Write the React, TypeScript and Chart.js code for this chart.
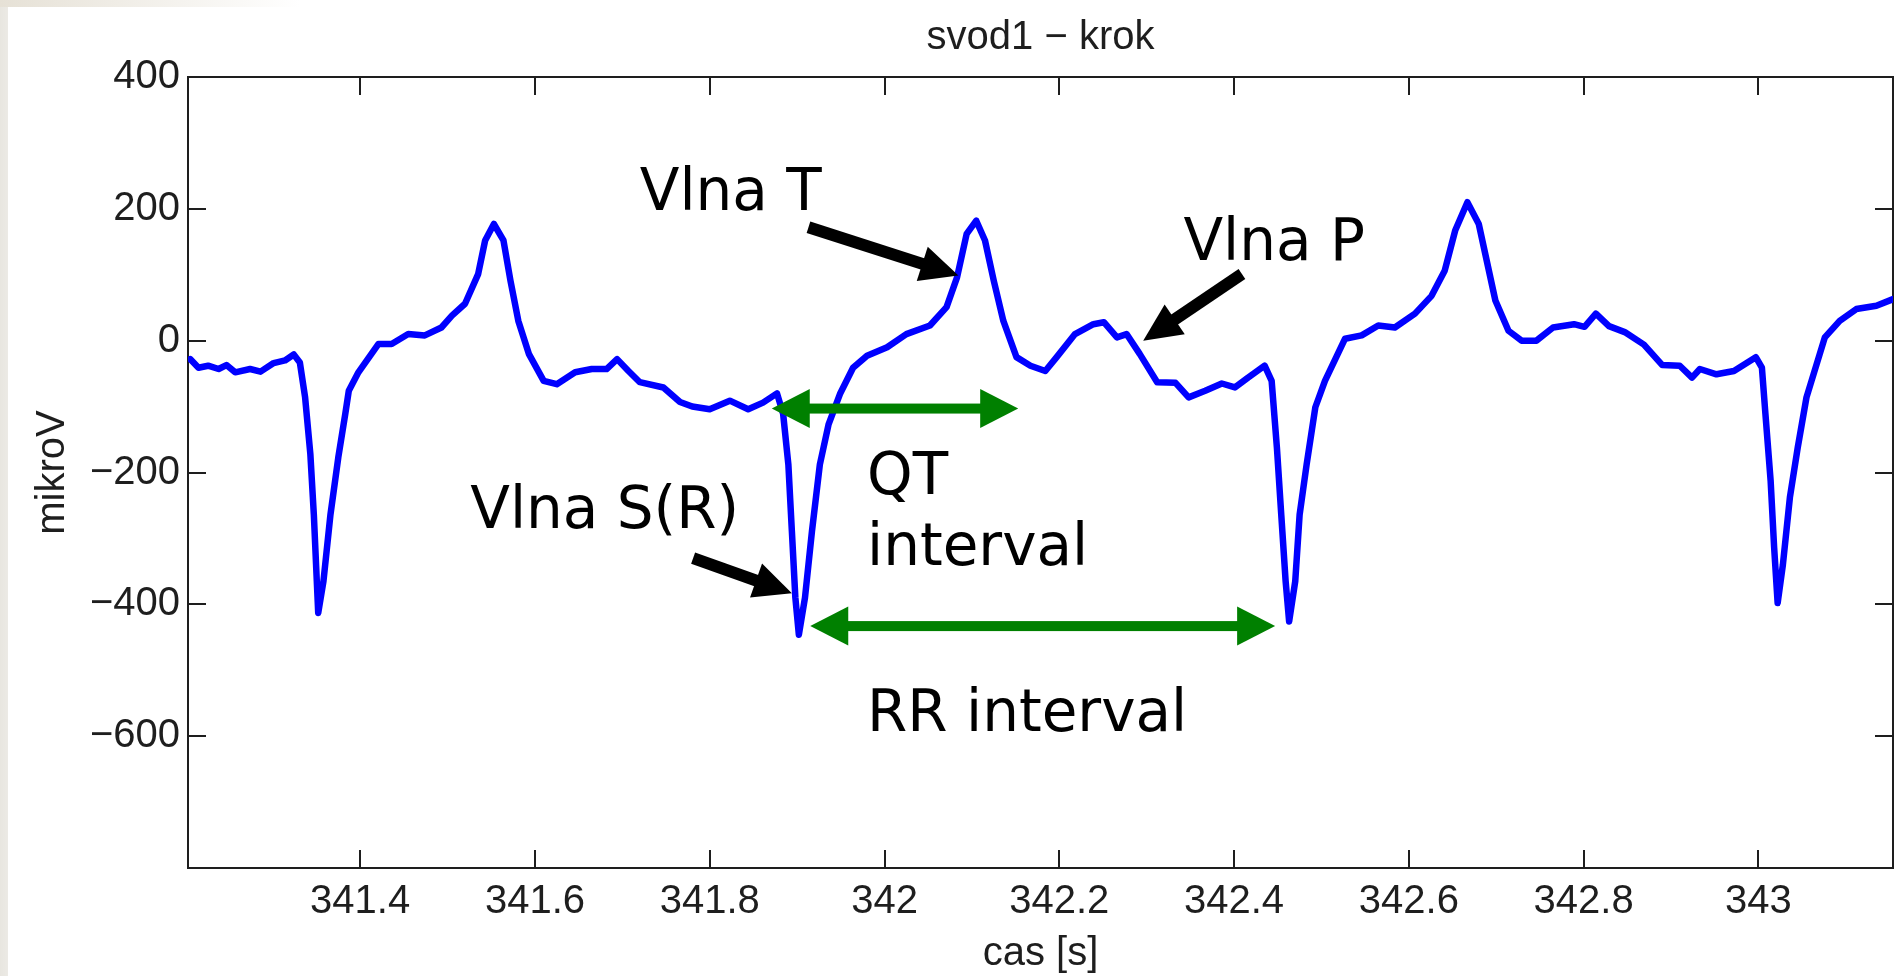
import React, { useEffect, useRef } from "react";
import { Chart, registerables } from "chart.js";

Chart.register(...registerables);

// ECG trace (time in seconds, amplitude in microvolts)
const times = [
  341.2055, 341.215, 341.226, 341.238, 341.247, 341.257, 341.274, 341.286, 341.301, 341.314,
  341.324, 341.331, 341.337, 341.343, 341.347, 341.352, 341.358, 341.366, 341.375, 341.383,
  341.387, 341.398, 341.421, 341.436, 341.455, 341.474, 341.493, 341.505, 341.52, 341.535,
  341.543, 341.553, 341.564, 341.572, 341.581, 341.593, 341.61, 341.625, 341.646, 341.665,
  341.682, 341.694, 341.707, 341.72, 341.747, 341.766, 341.78, 341.8, 341.823, 341.844,
  341.861, 341.877, 341.884, 341.89, 341.894, 341.898, 341.902, 341.909, 341.917, 341.926,
  341.936, 341.949, 341.964, 341.98, 342.003, 342.025, 342.052, 342.071, 342.083, 342.094,
  342.105, 342.115, 342.125, 342.136, 342.151, 342.167, 342.184, 342.197, 342.218, 342.239,
  342.251, 342.266, 342.277, 342.292, 342.312, 342.333, 342.348, 342.367, 342.386, 342.401,
  342.416, 342.435, 342.443, 342.449, 342.454, 342.459, 342.463, 342.47, 342.475, 342.483,
  342.493, 342.504, 342.527, 342.546, 342.565, 342.584, 342.607, 342.626, 342.641, 342.653,
  342.667, 342.68, 342.689, 342.699, 342.714, 342.729, 342.746, 342.765, 342.789, 342.801,
  342.814, 342.829, 342.847, 342.869, 342.89, 342.91, 342.924, 342.933, 342.952, 342.972,
  342.997, 343.004, 343.008, 343.014, 343.018, 343.022, 343.028, 343.036, 343.045, 343.055,
  343.076, 343.093, 343.112, 343.135, 343.154,
];
const microvolts = [
  -28, -41, -38, -43, -37, -48, -43, -47, -34, -30,
  -21, -33, -86, -172, -264, -413, -365, -264, -177, -111,
  -76, -48, -5, -5, 10, 8, 20, 38, 56, 101,
  152, 177, 152, 91, 30, -20, -61, -66, -48, -43,
  -43, -28, -46, -63, -71, -93, -100, -104, -91, -104,
  -94, -80, -111, -188, -289, -390, -446, -390, -289, -188,
  -127, -81, -41, -23, -10, 10, 23, 51, 96, 162,
  182, 152, 91, 30, -25, -38, -46, -25, 10, 25,
  28, 5, 10, -20, -63, -64, -86, -76, -65, -71,
  -56, -38, -61, -162, -264, -365, -426, -365, -264, -188,
  -101, -61, 3, 8, 23, 20, 41, 68, 106, 167,
  210, 177, 122, 61, 15, 0, 0, 20, 25, 21,
  41, 22, 13, -6, -37, -38, -56, -43, -51, -46,
  -25, -41, -111, -213, -314, -398, -340, -238, -162, -86,
  5, 30, 48, 53, 63,
];

const xTicks = [341.4, 341.6, 341.8, 342, 342.2, 342.4, 342.6, 342.8, 343];
const xTickLabels = ["341.4", "341.6", "341.8", "342", "342.2", "342.4", "342.6", "342.8", "343"];
const yTicks = [-600, -400, -200, 0, 200, 400];
const yTickLabels = ["\u2212600", "\u2212400", "\u2212200", "0", "200", "400"];

const X_MIN = 341.203;
const X_MAX = 343.154;
const Y_MIN = -800;
const Y_MAX = 400;

const titleText = "svod1 \u2212 krok";
const xTitle = "cas [s]";
const yTitle = "mikroV";

// Annotations (data coordinates)
const noteTexts = ["Vlna T", "Vlna P", "Vlna S(R)", "QT", "interval", "RR interval"];
const noteTimes = [341.72, 342.342, 341.526, 341.98, 341.98, 341.98];
const noteValues = [198, 122, -284, -233, -340, -592];

const pointerFromT = [341.913, 342.409, 341.781];
const pointerFromV = [172, 101, -330];
const pointerToT = [342.0846, 342.296, 341.894];
const pointerToV = [99, 0, -383];

const spanStart = [341.871, 341.915];
const spanEnd = [342.153, 342.447];
const spanLevel = [-103, -433];

const AXIS_FONT = "'Liberation Sans', Arial, Helvetica, sans-serif";
const NOTE_FONT = "'DejaVu Sans', Verdana, sans-serif";
const INK = "#1e1e1e";

function drawArrow(
  ctx: CanvasRenderingContext2D,
  x1: number, y1: number, x2: number, y2: number,
  shaft: number, headLen: number, headW: number, color: string, both: boolean
) {
  const ang = Math.atan2(y2 - y1, x2 - x1);
  const len = Math.hypot(x2 - x1, y2 - y1);
  ctx.save();
  ctx.translate(x1, y1);
  ctx.rotate(ang);
  ctx.fillStyle = color;
  const s0 = both ? headLen - 1 : 0;
  ctx.fillRect(s0, -shaft / 2, len - headLen + 1 - s0, shaft);
  ctx.beginPath();
  ctx.moveTo(len, 0);
  ctx.lineTo(len - headLen, -headW / 2);
  ctx.lineTo(len - headLen, headW / 2);
  ctx.closePath();
  ctx.fill();
  if (both) {
    ctx.beginPath();
    ctx.moveTo(0, 0);
    ctx.lineTo(headLen, -headW / 2);
    ctx.lineTo(headLen, headW / 2);
    ctx.closePath();
    ctx.fill();
  }
  ctx.restore();
}

const framePlugin = {
  id: "matlabFrame",
  beforeDatasetsDraw(chart: any) {
    const { ctx, chartArea, scales } = chart;
    const { left, right, top, bottom } = chartArea;
    const tl = 18;
    ctx.save();
    ctx.strokeStyle = INK;
    ctx.lineWidth = 2;
    ctx.strokeRect(left, top, right - left, bottom - top);
    ctx.beginPath();
    xTicks.forEach((v) => {
      const px = Math.round(scales.x.getPixelForValue(v));
      ctx.moveTo(px, bottom);
      ctx.lineTo(px, bottom - tl);
      ctx.moveTo(px, top);
      ctx.lineTo(px, top + tl);
    });
    yTicks.forEach((v) => {
      const py = Math.round(scales.y.getPixelForValue(v));
      ctx.moveTo(left, py);
      ctx.lineTo(left + tl, py);
      ctx.moveTo(right, py);
      ctx.lineTo(right - tl, py);
    });
    ctx.stroke();
    ctx.restore();
  },
};

const notesPlugin = {
  id: "ecgNotes",
  afterDraw(chart: any) {
    const { ctx, scales } = chart;
    const X = (t: number) => scales.x.getPixelForValue(t);
    const Y = (v: number) => scales.y.getPixelForValue(v);
    ctx.save();
    spanStart.forEach((s, i) => {
      drawArrow(ctx, X(s), Y(spanLevel[i]), X(spanEnd[i]), Y(spanLevel[i]), 10, 38, 39, "#008000", true);
    });
    pointerFromT.forEach((t, i) => {
      drawArrow(ctx, X(t), Y(pointerFromV[i]), X(pointerToT[i]), Y(pointerToV[i]), 12, 38, 36, "#000000", false);
    });
    ctx.fillStyle = "#000000";
    ctx.font = `58px ${NOTE_FONT}`;
    ctx.textAlign = "left";
    ctx.textBaseline = "alphabetic";
    noteTexts.forEach((txt, i) => {
      ctx.fillText(txt, X(noteTimes[i]), Y(noteValues[i]));
    });
    ctx.restore();
  },
};

export default function App() {
  const canvasRef = useRef<HTMLCanvasElement | null>(null);

  useEffect(() => {
    const canvas = canvasRef.current;
    if (!canvas) return;
    const points = times.map((t, i) => ({ x: t, y: microvolts[i] }));
    const chart = new Chart(canvas, {
      type: "scatter",
      data: {
        datasets: [
          {
            data: points,
            showLine: true,
            borderColor: "#0000ff",
            backgroundColor: "#0000ff",
            borderWidth: 6.5,
            pointRadius: 0,
            tension: 0,
            fill: false,
            borderJoinStyle: "round",
            borderCapStyle: "round",
          } as any,
        ],
      },
      options: {
        animation: false,
        responsive: false,
        devicePixelRatio: 1,
        events: [],
        layout: { padding: { top: 0, right: 1, bottom: 0, left: 0 } },
        plugins: {
          legend: { display: false },
          tooltip: { enabled: false },
          title: {
            display: true,
            text: titleText,
            fullSize: false,
            color: INK,
            font: { family: AXIS_FONT, size: 40, weight: "normal", lineHeight: 1 },
            padding: { top: 18, bottom: 19 },
          },
        },
        scales: {
          x: {
            type: "linear",
            min: X_MIN,
            max: X_MAX,
            afterBuildTicks: (s: any) => {
              s.ticks = xTicks.map((v) => ({ value: v }));
            },
            afterFit: (s: any) => {
              s.height = 108;
            },
            ticks: {
              autoSkip: false,
              maxRotation: 0,
              minRotation: 0,
              padding: 14,
              color: INK,
              font: { family: AXIS_FONT, size: 40, lineHeight: 1 },
              callback: (_v: any, i: number) => xTickLabels[i],
            },
            grid: { display: false, drawTicks: false },
            border: { display: false },
            title: {
              display: true,
              text: xTitle,
              color: INK,
              font: { family: AXIS_FONT, size: 40, lineHeight: 1 },
              padding: { top: 0, bottom: 2 },
            },
          },
          y: {
            type: "linear",
            min: Y_MIN,
            max: Y_MAX,
            afterBuildTicks: (s: any) => {
              s.ticks = yTicks.map((v) => ({ value: v }));
            },
            afterFit: (s: any) => {
              s.width = 188;
            },
            ticks: {
              autoSkip: false,
              padding: 8,
              color: INK,
              font: { family: AXIS_FONT, size: 40, lineHeight: 1 },
              callback: (_v: any, i: number) => yTickLabels[i],
            },
            grid: { display: false, drawTicks: false },
            border: { display: false },
            title: {
              display: true,
              text: yTitle,
              color: INK,
              font: { family: AXIS_FONT, size: 40, lineHeight: 1 },
              padding: { top: 33, bottom: 0 },
            },
          },
        },
      } as any,
      plugins: [framePlugin, notesPlugin],
    });
    return () => chart.destroy();
  }, []);

  return (
    <div
      style={{
        position: "fixed",
        left: 0,
        top: 0,
        width: 1894,
        height: 976,
        background: "linear-gradient(to right, #e8e6e0 0px, #eceae5 8px, #ffffff 8px)",
        overflow: "hidden",
      }}
    >
      <div
        style={{
          position: "absolute",
          left: 0,
          top: 0,
          width: 300,
          height: 7,
          background: "linear-gradient(to right, #e6e1d6, #ffffff)",
        }}
      />
      <canvas
        ref={canvasRef}
        width={1894}
        height={976}
        style={{ position: "absolute", left: 0, top: 0, display: "block" }}
      />
    </div>
  );
}
